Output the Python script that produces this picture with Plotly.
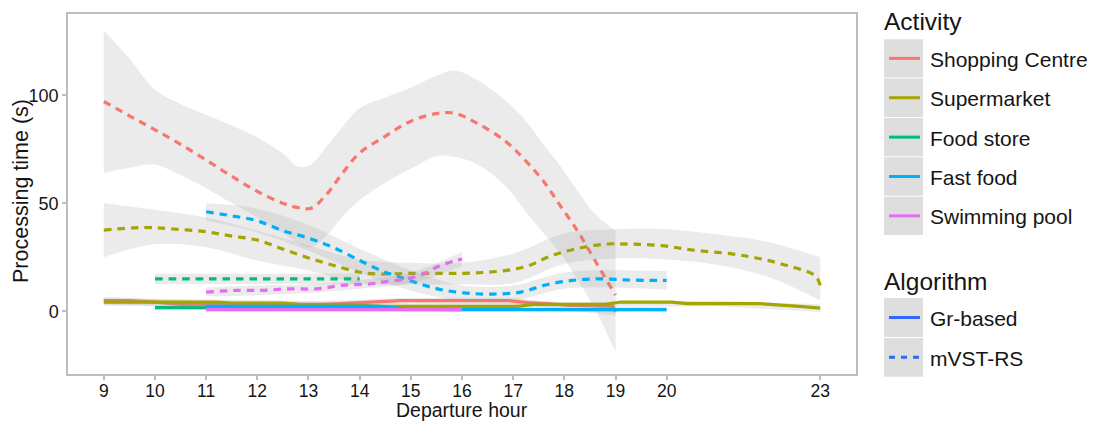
import plotly.graph_objects as go

# ---------------- data ----------------
activities = ["Shopping Centre", "Supermarket", "Food store", "Fast food", "Swimming pool"]
colors = ["#F8766D", "#A3A500", "#00BF7D", "#00B0F6", "#E76BF3"]
algorithms = ["Gr-based", "mVST-RS"]
hour_ticks = [9, 10, 11, 12, 13, 14, 15, 16, 17, 18, 19, 20, 23]
y_ticks = [0, 50, 100]

# mVST-RS smoothed curves
shop_mv_x = [9, 9.5, 10, 10.5, 11, 11.5, 12, 12.5, 12.8, 13.05, 13.35, 13.65, 14, 14.5, 15, 15.5,
             15.85, 16.3, 16.85, 17.25, 17.6, 17.9, 18.25, 18.6, 19]
shop_mv_y = [97.1, 90.5, 84, 77.3, 70, 62.5, 55.5, 50, 48, 47.7, 54, 63.5, 73.3, 81, 88, 91.5,
             91.7, 87, 78.7, 69.5, 60, 49.6, 37.5, 23.5, 7.5]
shop_mv_hi = [130, 117, 102.5, 96, 91, 86, 80.5, 73, 67, 68, 76, 85, 94, 99, 103.5, 109,
              111.5, 107, 97.5, 88, 77, 68, 56, 45, 37.3]
shop_mv_lo = [64, 66.5, 68, 63, 57, 50, 43.5, 36, 31.5, 29.6, 35, 43.4, 51.5, 59.5, 66, 71.8,
              71.5, 68, 58, 46, 36, 27.5, 15, 1, -18.7]

super_mv_x = [9, 9.8, 10.35, 10.95, 11.45, 12, 12.5, 13, 13.5, 14, 14.3, 15, 16, 16.7, 17.25,
              17.7, 18.2, 18.8, 19.3, 19.9, 20.5, 21.3, 21.85, 22.35, 22.9, 23]
super_mv_y = [37.6, 38.8, 38.1, 37, 35, 33, 28.8, 24.7, 21.2, 18.1, 17.3, 17.6, 17.6, 18.5, 20.7,
              25.3, 28.8, 31.1, 31.1, 30.4, 28.4, 26.5, 24.2, 21.2, 16.5, 12]
super_band_x = [9, 10, 11, 12, 13, 14, 15, 16, 17, 18, 19, 20, 21, 22, 23]
super_mv_hi = [50, 47, 43.4, 37.3, 30.5, 24, 22.5, 22.5, 26.7, 36, 38, 38, 35.5, 32, 25]
super_mv_lo = [25, 31, 29.6, 23.5, 18.9, 13, 12.5, 12.5, 13, 22, 24.5, 24, 21.5, 15.8, 5]

food_mv_x = [10, 11, 12, 13, 14]
food_mv_y = [15, 15, 15, 15, 15]
food_mv_hi = [17.5, 17.4, 17.4, 17.4, 17.6]
food_mv_lo = [12.5, 12.6, 12.6, 12.6, 12.4]

fast_mv_x = [11, 11.5, 12, 12.5, 13, 13.5, 14, 14.25, 14.45, 14.7, 15.17, 15.6, 16.1, 16.6,
             17.15, 17.65, 18.15, 18.65, 19.15, 19.65, 20]
fast_mv_y = [46.1, 44.2, 41.9, 37.3, 33.9, 29.4, 23.5, 20.7, 18.5, 16.6, 12.7, 10, 8.4, 8.0,
             8.9, 12.3, 14.3, 15, 14.6, 14.3, 14.3]
fast_band_x = [11, 12, 13, 14, 15, 16, 17, 18, 19, 20]
fast_mv_hi = [50, 47.5, 40, 29, 19, 12, 12, 18, 19, 18.5]
fast_mv_lo = [42, 36.5, 28, 18, 9.5, 5, 5, 10.5, 11, 10]

swim_mv_x = [11, 11.6, 12.1, 12.6, 13.15, 13.65, 14.2, 14.45, 14.9, 15.25, 15.5, 15.7, 16]
swim_mv_y = [8.9, 9.7, 9.7, 10.4, 10.4, 12, 12.7, 13.5, 15, 17.3, 20.4, 22.2, 24.2]
swim_band_x = [11, 12, 13, 14, 15, 16]
swim_mv_hi = [11, 12, 12.5, 14.5, 18, 27.5]
swim_mv_lo = [7, 7.5, 8.5, 10.5, 13, 21]

# Gr-based curves
shop_gr_x = [9, 9.5, 10, 10.5, 13.3, 13.7, 14.3, 14.8, 16.9, 17.3, 17.7, 18.1, 18.7, 18.95, 19]
shop_gr_y = [5, 5, 4.3, 3.2, 3.2, 3.7, 4.3, 5, 5, 4, 3.5, 2.8, 2.5, 2.3, -0.3]
shop_gr_band_x = [9, 11, 13, 15, 17, 19]
shop_gr_hi = [6.8, 4.6, 4.5, 6.3, 6.2, 1.5]
shop_gr_lo = [3.2, 1.8, 1.9, 3.7, 3.4, -2.1]

super_gr_x = [9, 11.2, 11.5, 12.5, 12.8, 13.8, 14.4, 17.1, 17.4, 18.8, 19.1, 20.1, 20.4, 21.8, 22.6, 23]
super_gr_y = [4.3, 4.3, 3.8, 3.8, 3.2, 3.0, 2.3, 2.3, 3.2, 3.2, 4.3, 4.3, 3.6, 3.6, 2.3, 1.5]
super_gr_band_x = [9, 12, 15, 18, 21, 23]
super_gr_hi = [6.0, 5.2, 3.6, 4.4, 4.9, 3.3]
super_gr_lo = [2.6, 2.4, 1.0, 2.0, 2.3, -0.3]

food_gr_x = [10, 11, 12, 13, 14]
food_gr_y = [1.7, 1.7, 1.7, 1.6, 1.6]
food_gr_hi = [2.8, 2.7, 2.7, 2.6, 2.8]
food_gr_lo = [0.6, 0.7, 0.7, 0.6, 0.4]

fast_gr_x = [11, 14.4, 14.9, 16, 20]
fast_gr_y = [2.3, 2.3, 1.0, 0.8, 0.8]
fast_gr_hi = [3.4, 3.3, 2.0, 1.8, 2.0]
fast_gr_lo = [1.2, 1.3, 0.0, -0.2, -0.4]

swim_gr_x = [11, 13.5, 16]
swim_gr_y = [0.8, 0.8, 0.8]
swim_gr_hi = [1.8, 1.7, 2.0]
swim_gr_lo = [-0.2, -0.1, -0.4]

groups = [
    # (activity index, algorithm, x, y, band x, band hi, band lo)
    (0, "Gr-based", shop_gr_x, shop_gr_y, shop_gr_band_x, shop_gr_hi, shop_gr_lo),
    (0, "mVST-RS", shop_mv_x, shop_mv_y, shop_mv_x, shop_mv_hi, shop_mv_lo),
    (1, "Gr-based", super_gr_x, super_gr_y, super_gr_band_x, super_gr_hi, super_gr_lo),
    (1, "mVST-RS", super_mv_x, super_mv_y, super_band_x, super_mv_hi, super_mv_lo),
    (2, "Gr-based", food_gr_x, food_gr_y, food_gr_x, food_gr_hi, food_gr_lo),
    (2, "mVST-RS", food_mv_x, food_mv_y, food_mv_x, food_mv_hi, food_mv_lo),
    (3, "Gr-based", fast_gr_x, fast_gr_y, fast_gr_x, fast_gr_hi, fast_gr_lo),
    (3, "mVST-RS", fast_mv_x, fast_mv_y, fast_band_x, fast_mv_hi, fast_mv_lo),
    (4, "Gr-based", swim_gr_x, swim_gr_y, swim_gr_x, swim_gr_hi, swim_gr_lo),
    (4, "mVST-RS", swim_mv_x, swim_mv_y, swim_band_x, swim_mv_hi, swim_mv_lo),
]

# ---------------- styling ----------------
FONT = "Liberation Sans, Arial, sans-serif"
TXT = "#151515"
BAND = "rgba(153,153,153,0.2)"
DASH = "7.5px,6px"
W, H = 1093, 421
L, R, T, B = 68, 856, 12, 374  # plot area in pixels


def px(x):
    return (x - L) / (R - L)


def py(y):
    return (B - y) / (B - T)


fig = go.Figure()

for ai, algo, xs, ys, bx, hi, lo in groups:
    shape = "spline" if algo == "mVST-RS" else "linear"
    fig.add_trace(go.Scatter(x=bx, y=lo, mode="lines", line=dict(width=0, shape=shape),
                             hoverinfo="skip", showlegend=False))
    fig.add_trace(go.Scatter(x=bx, y=hi, mode="lines", line=dict(width=0, shape=shape),
                             fill="tonexty", fillcolor=BAND, hoverinfo="skip", showlegend=False))
    fig.add_trace(go.Scatter(
        x=xs, y=ys, mode="lines", showlegend=False,
        name=f"{activities[ai]} ({algo})",
        line=dict(color=colors[ai], width=3.2, shape=shape,
                  dash=DASH if algo == "mVST-RS" else "solid"),
    ))

# ---------------- hand-built legend ----------------
shapes = []
annotations = []
KEY_X0, KEY_X1 = 884, 923
SEG_X0, SEG_X1 = 889, 920
KEY_FILL = "#DEDEDE"


def legend_block(title, title_y, top, key_h, labels, line_colors, dashes):
    annotations.append(dict(text=title, x=px(KEY_X0 - 2), y=py(title_y), xref="paper", yref="paper",
                            xanchor="left", yanchor="middle", showarrow=False,
                            font=dict(family=FONT, size=24.5, color=TXT)))
    for i, (lab, col, dsh) in enumerate(zip(labels, line_colors, dashes)):
        y0 = top + i * key_h
        y1 = y0 + key_h - 1
        yc = (y0 + y1) / 2
        shapes.append(dict(type="rect", xref="paper", yref="paper",
                           x0=px(KEY_X0), x1=px(KEY_X1), y0=py(y1), y1=py(y0),
                           fillcolor=KEY_FILL, line=dict(width=0), layer="above"))
        shapes.append(dict(type="line", xref="paper", yref="paper",
                           x0=px(SEG_X0), x1=px(SEG_X1), y0=py(yc), y1=py(yc),
                           line=dict(color=col, width=3, dash=dsh), layer="above"))
        annotations.append(dict(text=lab, x=px(928), y=py(yc + 1), xref="paper", yref="paper",
                                xanchor="left", yanchor="middle", showarrow=False,
                                font=dict(family=FONT, size=21, color=TXT)))


legend_block("Activity", 20, 37.3, 39.6, activities, colors, ["solid"] * 5)
legend_block("Algorithm", 281, 297.7, 40.0, algorithms, ["#3366FF", "#3366FF"], ["solid", "6px,6px"])

# axis titles
annotations.append(dict(text="Departure hour", x=0.5, y=py(410), xref="paper", yref="paper",
                        xanchor="center", yanchor="middle", showarrow=False,
                        font=dict(family=FONT, size=19.5, color=TXT)))
annotations.append(dict(text="Processing time (s)", x=px(21), y=py(190), xref="paper", yref="paper",
                        xanchor="center", yanchor="middle", showarrow=False, textangle=-90,
                        font=dict(family=FONT, size=21.5, color=TXT)))

axis_line = dict(showgrid=False, zeroline=False, showline=True, mirror=True,
                 linecolor="#BDBDBD", linewidth=1.5)

fig.update_layout(
    width=W, height=H,
    margin=dict(l=L, r=W - R, t=T, b=H - B),
    paper_bgcolor="white", plot_bgcolor="white",
    showlegend=False,
    xaxis=dict(range=[8.3, 23.7], tickvals=hour_ticks, ticktext=[str(h) for h in hour_ticks],
               ticks="", tickfont=dict(family=FONT, size=17.5, color=TXT),
               minor=dict(tickmode="array", tickvals=hour_ticks, ticks="outside", ticklen=4,
                          tickcolor="#BDBDBD", tickwidth=1.5, showgrid=False),
               **axis_line),
    yaxis=dict(range=[-29, 137.6], tickvals=y_ticks, ticktext=[str(v) for v in y_ticks],
               ticks="outside", ticklen=4, tickcolor="#BDBDBD", tickwidth=1.5,
               tickfont=dict(family=FONT, size=18, color=TXT),
               **axis_line),
    shapes=shapes,
    annotations=annotations,
)

fig.write_html("out.html")
